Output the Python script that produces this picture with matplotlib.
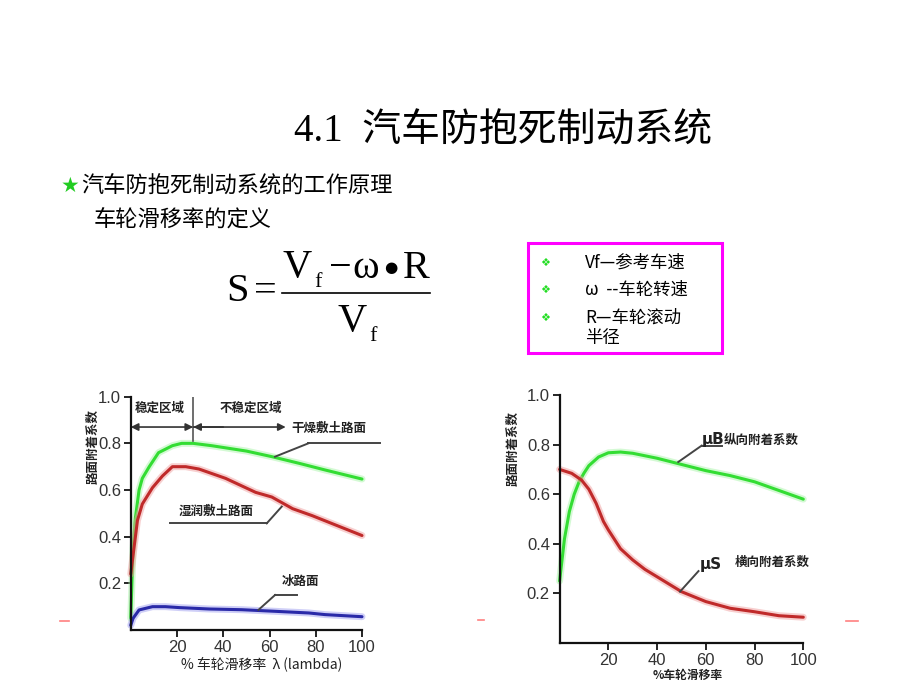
import matplotlib
matplotlib.use('Agg')
import matplotlib.pyplot as plt

plt.rcParams['font.family'] = ['Noto Sans CJK SC', 'DejaVu Sans']

# left chart: adhesion coefficient vs slip ratio on three surfaces
dry_x = [0, 1, 2, 3.6, 5, 8, 12, 18, 22, 27, 35, 50, 61, 73, 84, 100]
dry_y = [0.05, 0.35, 0.48, 0.60, 0.65, 0.70, 0.76, 0.79, 0.80, 0.80, 0.79, 0.767, 0.743, 0.714, 0.686, 0.647]
wet_x = [0, 1, 2.9, 5, 9.4, 13.7, 18, 23.8, 29.5, 41, 54, 61, 70, 78.5, 88.6, 100]
wet_y = [0.24, 0.32, 0.47, 0.54, 0.61, 0.66, 0.70, 0.70, 0.69, 0.65, 0.59, 0.57, 0.52, 0.49, 0.45, 0.405]
ice_x = [0, 1, 3.6, 9.4, 15, 21, 34, 48, 62.7, 77, 84, 100]
ice_y = [0.02, 0.05, 0.086, 0.10, 0.10, 0.096, 0.09, 0.087, 0.08, 0.073, 0.066, 0.057]

# right chart: longitudinal / lateral adhesion
mub_x = [0, 2, 4, 6, 8, 10, 12, 16, 20, 25, 30, 40, 50, 60, 70, 80, 90, 100]
mub_y = [0.25, 0.42, 0.53, 0.60, 0.65, 0.685, 0.715, 0.75, 0.767, 0.77, 0.765, 0.745, 0.72, 0.695, 0.675, 0.65, 0.615, 0.58]
mus_x = [0, 5, 9, 12, 15, 18, 20, 25, 30, 35, 40, 50, 60, 70, 80, 90, 100]
mus_y = [0.70, 0.684, 0.657, 0.62, 0.563, 0.49, 0.456, 0.38, 0.335, 0.297, 0.267, 0.207, 0.167, 0.14, 0.126, 0.11, 0.104]

xticks = [20, 40, 60, 80, 100]
yticks = [0.2, 0.4, 0.6, 0.8, 1.0]
ytick_labels = ['0.2', '0.4', '0.6', '0.8', '1.0']

W, H = 920, 690
fig = plt.figure(figsize=(9.2, 6.9), dpi=100)
fig.patch.set_facecolor('white')


def fx(px):
    return px / W


def fy(py):
    return 1 - py / H


def ftext(px, py, s, **kw):
    fig.text(fx(px), fy(py), s, **kw)


serif = ['Liberation Serif', 'DejaVu Serif']

# ---- slide text ----
ftext(503, 132, '4.1  汽车防抱死制动系统', ha='center', va='center', fontsize=28,
      family=['Liberation Serif', 'Noto Sans CJK SC'])
ftext(70, 186, '★', ha='center', va='center', fontsize=15, color='#22cc22', family=['DejaVu Sans'])
ftext(81, 186, '汽车防抱死制动系统的工作原理', ha='left', va='center', fontsize=16)
ftext(94, 220, '车轮滑移率的定义', ha='left', va='center', fontsize=16)

# formula S = (Vf - w.R) / Vf, set piece by piece
ftext(238, 292, 'S', ha='center', va='center', fontsize=29, family=serif)
ftext(265, 292, '=', ha='center', va='center', fontsize=29, family=serif)
ftext(297, 268, 'V', ha='center', va='center', fontsize=29, family=serif)
ftext(318, 282, 'f', ha='center', va='center', fontsize=16, family=serif)
ftext(340, 268, '−', ha='center', va='center', fontsize=29, family=serif)
ftext(366, 268, 'ω', ha='center', va='center', fontsize=29, family=serif)
ftext(391, 268, '●', ha='center', va='center', fontsize=11, family=['DejaVu Sans'])
ftext(416, 268, 'R', ha='center', va='center', fontsize=29, family=serif)
fig.add_artist(plt.Line2D([fx(282), fx(430)], [fy(293), fy(293)], color='black', lw=1.2))
ftext(352, 322, 'V', ha='center', va='center', fontsize=29, family=serif)
ftext(373, 336, 'f', ha='center', va='center', fontsize=16, family=serif)

# legend box
fig.add_artist(plt.Rectangle((fx(528), fy(353)), fx(722) - fx(528), fy(243) - fy(353),
                             fill=False, edgecolor='#ff00ff', lw=2.2))
box_rows = [(263, 'Vf—参考车速'), (290, 'ω  --车轮转速'), (318, 'R—车轮滚动')]
for py, s in box_rows:
    ftext(545, py, '❖', ha='center', va='center', fontsize=8, color='#22dd22', family=['DejaVu Sans'])
    ftext(585, py, s, ha='left', va='center', fontsize=12.5)
ftext(585, 338, '半径', ha='left', va='center', fontsize=12.5)

# faint pink rule fragments
for x0, x1, py in [(60, 69, 621), (478, 484, 620), (846, 858, 621)]:
    fig.add_artist(plt.Line2D([fx(x0), fx(x1)], [fy(py), fy(py)], color='#ff8080', lw=1.2))


def style_axes(ax):
    ax.set_xlim(0, 100)
    ax.set_ylim(0, 1.0)
    ax.set_facecolor('none')
    for s in ['top', 'right']:
        ax.spines[s].set_visible(False)
    for s in ['left', 'bottom']:
        ax.spines[s].set_linewidth(1.6)
        ax.spines[s].set_color('#111111')
    ax.set_xticks(xticks)
    ax.set_yticks(yticks)
    ax.set_yticklabels(ytick_labels)
    ax.tick_params(direction='out', length=5, width=1.2, labelsize=12, labelcolor='#333333',
                   pad=2)
    for lab in ax.get_xticklabels() + ax.get_yticklabels():
        lab.set_family(['Liberation Sans'])


def glow_line(ax, x, y, core, halo):
    ax.plot(x, y, color=halo, lw=5, alpha=0.5, solid_capstyle='round', clip_on=False)
    ax.plot(x, y, color=core, lw=2.2, solid_capstyle='round', clip_on=False)


lead = dict(color='#444444', lw=1.4, clip_on=False)
lbl = dict(fontsize=9, fontweight='bold', color='#222222')

# ---- left chart ----
ax1 = fig.add_axes([fx(130.75), fy(630), fx(362) - fx(130.75), fy(396.7) - fy(630)])
style_axes(ax1)
glow_line(ax1, dry_x, dry_y, '#33dd33', '#aaf5aa')
glow_line(ax1, wet_x, wet_y, '#c02a2a', '#f0a0a0')
glow_line(ax1, ice_x, ice_y, '#2a2aa8', '#a0a0f0')

ax1.plot([27, 27], [1.0, 0.81], color='#555555', lw=1.2)
ax1.annotate('', xy=(0, 0.87), xytext=(27, 0.87),
             arrowprops=dict(arrowstyle='<|-|>', color='#333333', lw=1.2, mutation_scale=11,
                             shrinkA=0, shrinkB=0))
ax1.annotate('', xy=(67, 0.87), xytext=(27, 0.87),
             arrowprops=dict(arrowstyle='-|>', color='#333333', lw=1.2, mutation_scale=11,
                             shrinkA=0, shrinkB=0))
ax1.annotate('', xy=(27, 0.87), xytext=(40, 0.87),
             arrowprops=dict(arrowstyle='-|>', color='#333333', lw=1.2, mutation_scale=11,
                             shrinkA=0, shrinkB=0))
ax1.text(12.5, 0.95, '稳定区域', ha='center', va='center', **lbl)
ax1.text(52, 0.95, '不稳定区域', ha='center', va='center', **lbl)
ax1.text(69.6, 0.864, '干燥敷土路面', ha='left', va='center', clip_on=False, **lbl)
ax1.plot([76.8, 107.7], [0.8, 0.8], **lead)
ax1.plot([76.8, 62.4], [0.8, 0.743], **lead)
ax1.text(37, 0.507, '湿润敷土路面', ha='center', va='center', **lbl)
ax1.plot([17, 58.8], [0.457, 0.457], **lead)
ax1.plot([58.8, 65.3], [0.457, 0.529], **lead)
ax1.text(65.3, 0.207, '冰路面', ha='left', va='center', **lbl)
ax1.plot([62.4, 71.8], [0.15, 0.15], **lead)
ax1.plot([62.4, 55.2], [0.15, 0.086], **lead)

ftext(262, 664, '% 车轮滑移率  λ (lambda)', ha='center', va='center', fontsize=10,
      color='#222222', family=['Noto Sans CJK SC', 'DejaVu Sans'])
ftext(93, 447, '路面附着系数', ha='center', va='center', rotation=90, fontsize=9,
      fontweight='bold', color='#222222')

# ---- right chart ----
ax2 = fig.add_axes([fx(559.6), fy(643), fx(803.3) - fx(559.6), fy(395) - fy(643)])
style_axes(ax2)
glow_line(ax2, mub_x, mub_y, '#33dd33', '#aaf5aa')
glow_line(ax2, mus_x, mus_y, '#c02a2a', '#f0a0a0')

ax2.text(58.3, 0.822, 'μB', ha='left', va='center', fontsize=11, fontweight='bold',
         color='#222222', family=['DejaVu Sans'])
ax2.text(67.2, 0.819, '纵向附着系数', ha='left', va='center', clip_on=False, **lbl)
ax2.plot([58.3, 66.5], [0.796, 0.796], **lead)
ax2.plot([58.3, 48.7], [0.796, 0.73], **lead)
ax2.text(57.6, 0.315, 'μS', ha='left', va='center', fontsize=11, fontweight='bold',
         color='#222222', family=['DejaVu Sans'])
ax2.text(72, 0.324, '横向附着系数', ha='left', va='center', clip_on=False, **lbl)
ax2.plot([57, 49.4], [0.29, 0.207], **lead)

ftext(688, 675, '%车轮滑移率', ha='center', va='center', fontsize=8.5, fontweight='bold',
      color='#222222')
ftext(513, 448, '路面附着系数', ha='center', va='center', rotation=90, fontsize=9,
      fontweight='bold', color='#222222')

fig.savefig('out.png', dpi=100)
